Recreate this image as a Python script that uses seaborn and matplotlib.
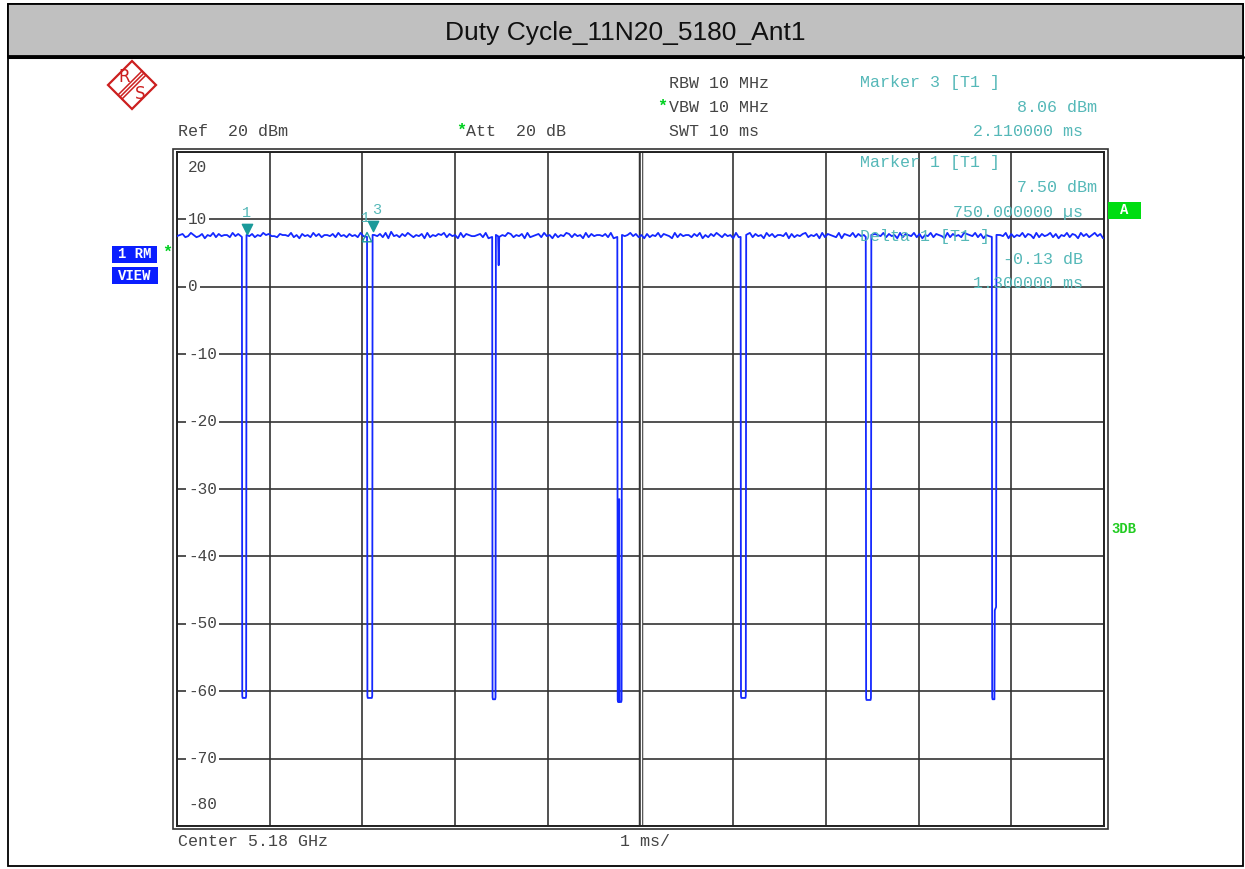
import numpy as np
import pandas as pd
import matplotlib
matplotlib.use('Agg')
import matplotlib.pyplot as plt
import matplotlib.transforms as mtransforms
from matplotlib.patches import Rectangle, Polygon
from matplotlib.lines import Line2D
import seaborn as sns

# ---- data ----
title = 'Duty Cycle_11N20_5180_Ant1'
sweep_ms = 10
y_ticks = [20, 10, 0, -10, -20, -30, -40, -50, -60, -70, -80]

# gaps between bursts (ms) and the level they fall to (dBm)
dip_fall = [0.70, 2.05, 3.40, 4.75, 6.08, 7.43, 8.79]
dip_rise = [0.75, 2.11, 3.44, 4.80, 6.14, 7.49, 8.84]
dip_floor = [-61.0, -61.0, -61.2, -61.6, -61.0, -61.3, -61.2]

# burst level and ripple (one digit every 0.03 ms, ~0.16 dB per step)
burst_level = 7.6
ripple = ("45634753462547364553746253463547564436554735264537463554637453645374653"
          "54637284536475354627354657364527365445637254635476354627345637452635476"
          "36452736455463725364574635263547365427364553647253647536452736457364527"
          "46355472635467354627365437265473645273654736452736547362547365427364537"
          "65473625473654726354736527364573625473652746357462537465273645273654736")
ripple_step = 0.03

# extra glitches seen in the trace (ms, dBm)
spike_t, spike_db = 3.47, 3.2          # short drop after the 3rd gap
notch_t, notch_db = 4.77, -31.5        # partial rise inside the 4th gap
step_t, step_db = 8.822, -48.0         # stepped rise of the 7th gap

# markers
marker_t = [0.75, 2.11]
marker_db = [7.50, 8.06]
delta_t = 1.30
delta_db = -0.13

# ---- build trace ----
rows = []
for i, ch in enumerate(ripple):
    t = i * ripple_step
    if t > sweep_ms:
        break
    if any(f - 0.012 <= t <= r + 0.012 for f, r in zip(dip_fall, dip_rise)):
        continue
    if abs(t - spike_t) < 0.012:
        continue
    rows.append((t, burst_level + (int(ch) - 4.5) * 0.16))
for k, (f, r, fl) in enumerate(zip(dip_fall, dip_rise, dip_floor)):
    rows += [(f, 7.4), (f + 0.004, fl + 0.3), (f + 0.008, fl)]
    if k == 3:
        rows += [(notch_t - 0.004, fl), (notch_t, notch_db), (notch_t + 0.004, fl)]
    if k == 6:
        rows += [(step_t - 0.004, fl), (step_t, step_db), (r - 0.004, step_db + 0.5), (r, 7.7)]
    else:
        rows += [(r - 0.008, fl), (r - 0.004, fl + 0.3), (r, 7.7)]
rows += [(spike_t - 0.006, 7.5), (spike_t, spike_db), (spike_t + 0.006, 7.4)]
df = pd.DataFrame(rows, columns=['t', 'dBm']).sort_values('t').reset_index(drop=True)

# ---- figure ----
sns.set_style('white')
W, H = 1245, 869
fig = plt.figure(figsize=(W / 100, H / 100), dpi=100)

def fx(px):
    return px / W

def fy(py):
    return 1 - py / H

mono = 'Liberation Mono'
grey = '#444444'
teal = '#55b8b8'
green = '#00d020'

# outer frame and title bar
fig.patches.append(Rectangle((fx(8), fy(866)), fx(1235), 862 / H, transform=fig.transFigure,
                             facecolor='white', edgecolor='black', lw=1.3, zorder=-2))
fig.patches.append(Rectangle((fx(8), fy(56)), fx(1235), 52 / H, transform=fig.transFigure,
                             facecolor='#c0c0c0', edgecolor='black', lw=1.3, zorder=-1))
fig.lines.append(Line2D([fx(8), fx(1243)], [fy(57), fy(57)], transform=fig.transFigure,
                        color='black', lw=2.2))
fig.text(fx(625), fy(33), title, ha='center', va='center', fontsize=19,
         family='Liberation Sans', color='#111111')

# R&S logo
red = '#cc1f1f'
cx, cy, r = 132, 85, 24
fig.patches.append(Polygon([(fx(cx), fy(cy - r)), (fx(cx + r), fy(cy)), (fx(cx), fy(cy + r)),
                            (fx(cx - r), fy(cy))], closed=True, fill=False, edgecolor=red,
                           lw=1.6, transform=fig.transFigure))
for d in (-2, 0, 2):
    fig.lines.append(Line2D([fx(cx + 12 + d), fx(cx - 12 + d)], [fy(cy - 12 + d), fy(cy + 12 + d)],
                            transform=fig.transFigure, color=red, lw=1.1))
fig.text(fx(124), fy(77), 'R', color=red, fontsize=12, ha='center', va='center', family='DejaVu Sans')
fig.text(fx(140), fy(94), 'S', color=red, fontsize=12, ha='center', va='center', family='DejaVu Sans')

# plot area
ax = fig.add_axes([fx(177), fy(826), (1104 - 177) / W, (826 - 152) / H])
sns.lineplot(data=df, x='t', y='dBm', ax=ax, color='#1428ff', lw=1.3, sort=False,
             estimator=None, zorder=4)
ax.set_xlim(0, sweep_ms)
ax.set_ylim(-80, 20)
ax.set_xticks(range(0, sweep_ms + 1))
ax.set_yticks(y_ticks)
ax.tick_params(length=0, labelleft=False, labelbottom=False)
ax.set_xlabel('')
ax.set_ylabel('')
ax.grid(True, color='#333333', lw=1.2)
ax.axvline(sweep_ms / 2, color='#333333', lw=3.2, zorder=1)
ax.axvline(sweep_ms / 2, color='white', lw=1.0, zorder=1)
for s in ax.spines.values():
    s.set_color('#222222')
    s.set_linewidth(1.4)
ax.add_patch(Rectangle((-0.004, -0.005), 1.008, 1.01, transform=ax.transAxes, fill=False,
                       edgecolor='#333333', lw=1.2, clip_on=False))

# y labels inside the grid
for v in y_ticks:
    if v == y_ticks[0]:
        ax.annotate(str(v), (0.12, v), xytext=(0, -6), textcoords='offset points', va='top',
                    ha='left', family=mono, fontsize=11.5, color=grey)
    elif v == y_ticks[-1]:
        ax.annotate(str(v), (0.12, v), xytext=(0, 10), textcoords='offset points', va='bottom',
                    ha='left', family=mono, fontsize=11.5, color=grey)
    else:
        ax.text(0.12, v, str(v), va='center', ha='left', family=mono, fontsize=11.5, color=grey,
                bbox=dict(facecolor='white', edgecolor='none', pad=1.5), zorder=2)

# markers
off = mtransforms.ScaledTranslation(0, 5 / 72, fig.dpi_scale_trans)
ax.scatter(marker_t, marker_db, marker='v', s=55, color='#1a9a9a', transform=ax.transData + off,
           zorder=6, clip_on=False)
ax.scatter([marker_t[0] + delta_t], [marker_db[0] + delta_db], marker='^', s=45,
           facecolor='none', edgecolor='#1a9a9a', lw=1, zorder=6)
ax.annotate('1', (marker_t[0], marker_db[0]), xytext=(0, 17), textcoords='offset points',
            ha='center', va='center', color=teal, fontsize=11, family=mono)
ax.annotate('3', (marker_t[1], marker_db[1]), xytext=(3, 16), textcoords='offset points',
            ha='center', va='center', color=teal, fontsize=11, family=mono)
ax.annotate('1', (marker_t[0] + delta_t, marker_db[0]), xytext=(-1, 13), textcoords='offset points',
            ha='center', va='center', color=teal, fontsize=11, family=mono)

# header texts
def txt(x, y, s, color=grey, ha='left', size=12, **kw):
    fig.text(fx(x), fy(y), s, ha=ha, va='center', family=mono, fontsize=size, color=color, **kw)

txt(178, 131, 'Ref  20 dBm')
txt(456, 130, '*', color=green, fontweight='bold')
txt(466, 131, 'Att  20 dB')
txt(669, 83, 'RBW 10 MHz')
txt(657, 106, '*', color=green, fontweight='bold')
txt(669, 107, 'VBW 10 MHz')
txt(669, 131, 'SWT 10 ms')
txt(860, 83, 'Marker 3 [T1 ]', color=teal)
txt(1097, 107, f'{marker_db[1]:.2f} dBm', color=teal, ha='right')
txt(1083, 131, f'{marker_t[1]:.6f} ms', color=teal, ha='right')
txt(860, 163, 'Marker 1 [T1 ]', color=teal)
txt(1097, 188, f'{marker_db[0]:.2f} dBm', color=teal, ha='right')
txt(1083, 212, f'{marker_t[0] * 1000:.6f} µs', color=teal, ha='right')
txt(860, 236, 'Delta 1 [T1 ]', color=teal)
txt(1083, 260, f'{delta_db:.2f} dB', color=teal, ha='right')
txt(1083, 284, f'{delta_t:.6f} ms', color=teal, ha='right')
txt(178, 841, 'Center 5.18 GHz')
txt(620, 841, '1 ms/')

# side badges
fig.patches.append(Rectangle((fx(1108), fy(219)), 33 / W, 17 / H, transform=fig.transFigure,
                             facecolor='#00dd11', edgecolor='none'))
txt(1124.5, 210.5, 'A', color='white', ha='center', fontweight='bold', size=10)
txt(1111, 529, '3DB', color='#22cc22', fontweight='bold', size=10)
fig.patches.append(Rectangle((fx(112), fy(263)), 45 / W, 17 / H, transform=fig.transFigure,
                             facecolor='#0a1eff', edgecolor='none'))
fig.patches.append(Rectangle((fx(112), fy(284)), 46 / W, 17 / H, transform=fig.transFigure,
                             facecolor='#0a1eff', edgecolor='none'))
txt(134.5, 254.5, '1 RM', color='white', ha='center', fontweight='bold', size=10)
txt(135, 275.5, 'VIEW', color='white', ha='center', fontweight='bold', size=10)
txt(167, 252, '*', color=green, ha='center', fontweight='bold')

fig.savefig('out.png', dpi=100)
